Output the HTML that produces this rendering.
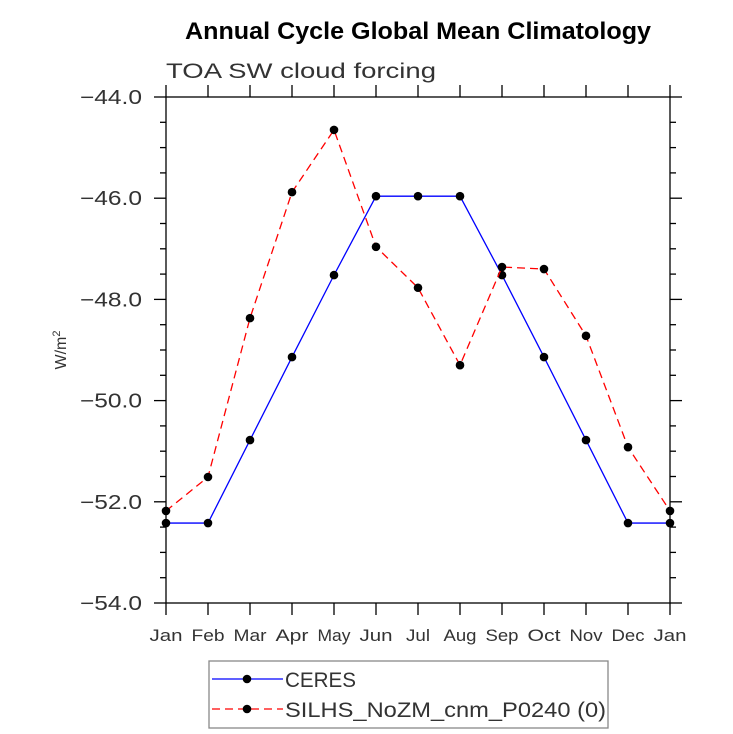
<!DOCTYPE html>
<html><head><meta charset="utf-8"><style>
body{margin:0;background:#fff}
svg{display:block;font-family:"Liberation Sans",sans-serif}
</style></head><body>
<svg id="chart" width="733" height="734" viewBox="0 0 733 734">
<text x="418" y="39" text-anchor="middle" font-size="24" font-weight="bold" textLength="466" lengthAdjust="spacingAndGlyphs">Annual Cycle Global Mean Climatology</text>
<text x="166" y="78" font-size="21" fill="#333" textLength="270" lengthAdjust="spacingAndGlyphs">TOA SW cloud forcing</text>
<text transform="translate(66,350) rotate(-90)" text-anchor="middle" font-size="16" fill="#333">W/m<tspan dy="-6" font-size="11">2</tspan></text>
<g id="axes"></g>
<g id="series"></g>
<g>
<rect x="209" y="661" width="399" height="67" fill="none" stroke="#888" stroke-width="1.3"/>
<line x1="212" y1="679" x2="283" y2="679" stroke="#0000ff" stroke-width="1.3"/>
<circle cx="247" cy="679" r="4.3" fill="#000"/>
<text x="285" y="687" font-size="21" fill="#333" textLength="71" lengthAdjust="spacingAndGlyphs">CERES</text>
<line x1="212" y1="709" x2="283" y2="709" stroke="#ff0000" stroke-width="1.3" stroke-dasharray="8,5"/>
<circle cx="247" cy="709" r="4.3" fill="#000"/>
<text x="285" y="717" font-size="21" fill="#333" textLength="321" lengthAdjust="spacingAndGlyphs">SILHS_NoZM_cnm_P0240 (0)</text>
</g>
</svg>
<script>
const months=["Jan","Feb","Mar","Apr","May","Jun","Jul","Aug","Sep","Oct","Nov","Dec","Jan"];
const ceres=[-52.42,-52.42,-50.78,-49.14,-47.52,-45.96,-45.96,-45.96,-47.52,-49.14,-50.78,-52.42,-52.42];
const silhs=[-52.18,-51.51,-48.37,-45.88,-44.65,-46.96,-47.77,-49.30,-47.36,-47.40,-48.72,-50.92,-52.18];
const yTicks=[-44,-46,-48,-50,-52,-54];
const NS="http://www.w3.org/2000/svg";
const X0=166,X1=670,Y0=97,Y1=603,YMAX=-44,YMIN=-54;
const xs=i=>X0+(X1-X0)*i/(months.length-1);
const ys=v=>Y0+(YMAX-v)/(YMAX-YMIN)*(Y1-Y0);
function mk(t,a,p){const e=document.createElementNS(NS,t);for(const k in a)e.setAttribute(k,a[k]);p.appendChild(e);return e;}
const ax=document.getElementById('axes');
const fr=mk('rect',{x:X0,y:Y0,width:X1-X0,height:Y1-Y0,fill:'none',stroke:'#000','stroke-width':1.3},ax);


months.forEach((m,i)=>{const x=xs(i);
 mk('line',{x1:x,y1:Y1,x2:x,y2:Y1+12,stroke:'#000','stroke-width':1.3},ax);
 mk('line',{x1:x,y1:Y0,x2:x,y2:Y0-12,stroke:'#000','stroke-width':1.3},ax);
 const t=mk('text',{x:x,y:641,'text-anchor':'middle','font-size':17,fill:'#333',textLength:(m==="Jul"?24:33),lengthAdjust:'spacingAndGlyphs'},ax);t.textContent=m;
 
 
});
for(let v=YMAX;v>=YMIN-0.001;v-=0.5){const y=ys(v);const major=Math.abs(v%2)<0.01;const L=major?12:6;
 mk('line',{x1:X0-L,y1:y,x2:X0,y2:y,stroke:'#000','stroke-width':1.3},ax);
 mk('line',{x1:X1,y1:y,x2:X1+L,y2:y,stroke:'#000','stroke-width':1.3},ax);}
yTicks.forEach(v=>{const t=mk('text',{x:142,y:ys(v)+7,'text-anchor':'end','font-size':20,fill:'#333',textLength:62,lengthAdjust:'spacingAndGlyphs'},ax);
 t.textContent='\u2212'+Math.abs(v).toFixed(1);
 
 });
const sg=document.getElementById('series');
function draw(vals,col,dash,name){
 const pl=mk('polyline',{points:vals.map((v,i)=>xs(i)+','+ys(v)).join(' '),fill:'none',stroke:col,'stroke-width':1.3},sg);
 if(dash)pl.setAttribute('stroke-dasharray',dash);
 
 
 vals.forEach((v,i)=>{const c=mk('circle',{cx:xs(i),cy:ys(v),r:4.3,fill:'#000'},sg);
  
  });
}
draw(ceres,'#0000ff',null,'ceres');
draw(silhs,'#ff0000','8,5','silhs');
</script>
</body></html>
